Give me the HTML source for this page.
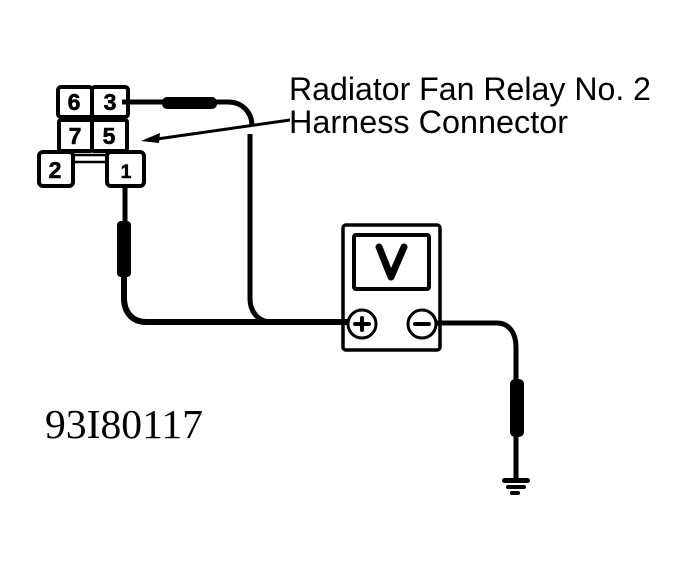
<!DOCTYPE html>
<html>
<head>
<meta charset="utf-8">
<style>
html,body{margin:0;padding:0;background:#fff;}
svg{display:block;}
</style>
</head>
<body>
<svg width="686" height="571" viewBox="0 0 686 571" xmlns="http://www.w3.org/2000/svg">
<rect width="686" height="571" fill="#fff"/>
<g fill="none" stroke="#000" stroke-width="4" stroke-linejoin="round" stroke-linecap="round">
  <!-- connector -->
  <rect x="58" y="87" width="34" height="30" rx="3"/>
  <rect x="92" y="87" width="36" height="30" rx="3"/>
  <rect x="59" y="120" width="33" height="31" rx="2"/>
  <rect x="92" y="120" width="35" height="31" rx="2"/>
  <rect x="39" y="152" width="34" height="34" rx="4"/>
  <rect x="107" y="152" width="37" height="34" rx="4"/>
  <path d="M73 155H107M73 162H107" stroke-width="2.5"/>
  <!-- wires -->
  <path d="M122 102H217H228C242 102 252 112 252 126" stroke-width="5" stroke-linecap="butt"/>
  <path d="M250 134V298C250 312 258 322 272 322" stroke-width="5" stroke-linecap="butt"/>
  <path d="M125 187V222" stroke-width="5" stroke-linecap="butt"/>
  <path d="M124 276V298C124 312 132 322 146 322H348" stroke-width="6" stroke-linecap="butt"/>
  <path d="M437 323H497C509 323 516 333 516 347V380" stroke-width="5" stroke-linecap="butt"/>
  <path d="M516 436V480" stroke-width="5" stroke-linecap="butt"/>
  <!-- meter -->
  <rect x="343" y="225" width="97" height="125" rx="3" stroke-width="3.5"/>
  <rect x="354" y="235" width="75" height="54" rx="2" stroke-width="4"/>
  <circle cx="362" cy="324" r="14" fill="#fff" stroke-width="3"/>
  <circle cx="422" cy="324" r="14" fill="#fff" stroke-width="3"/>
  <path d="M379 247L391 277L404 247" stroke-width="7"/>
  <path d="M355 324H369M362 318V330" stroke-width="4"/>
  <path d="M415 324H429" stroke-width="4"/>
  <!-- leader -->
  <path d="M150 140L290 120" stroke-width="3" stroke-linecap="butt"/>
</g>
<g fill="#000">
  <!-- arrowhead -->
  <path d="M141 141L160 133L159 143Z"/>
  <!-- thick probes -->
  <rect x="162" y="97" width="55" height="12" rx="5"/>
  <rect x="117" y="221" width="14" height="56" rx="4"/>
  <rect x="510" y="379" width="14" height="58" rx="5"/>
  <!-- ground -->
  <rect x="502" y="478" width="28" height="5" rx="2.5"/>
  <rect x="506" y="485" width="20" height="4" rx="2"/>
  <rect x="510" y="491" width="10" height="4" rx="2"/>
</g>
<g font-family="'Liberation Sans',sans-serif" font-weight="700" font-size="23" text-anchor="middle" fill="#000" stroke="#000" stroke-width="0.6">
  <text x="74" y="110">6</text>
  <text x="110" y="110">3</text>
  <text x="75" y="144">7</text>
  <text x="109" y="144">5</text>
  <text x="55" y="178">2</text>
  <text x="126" y="178" font-size="19">1</text>
</g>
<g font-family="'Liberation Sans',sans-serif" font-size="32" fill="#000">
  <text x="289" y="100" textLength="362" lengthAdjust="spacingAndGlyphs">Radiator Fan Relay No. 2</text>
  <text x="289" y="133" textLength="279" lengthAdjust="spacingAndGlyphs">Harness Connector</text>
</g>
<text x="45" y="438" font-family="'Liberation Serif',serif" font-size="41" textLength="158" lengthAdjust="spacingAndGlyphs" fill="#000">93I80117</text>
</svg>
</body>
</html>
